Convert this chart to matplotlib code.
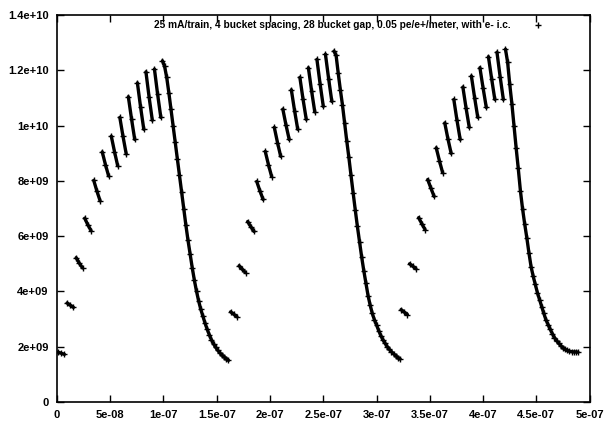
import numpy as np
import matplotlib
matplotlib.use('Agg')
import matplotlib.pyplot as plt

# electron cloud density (units of 1e9) for three bunch trains
# each bunch cluster is sampled at 0, 3 and 6 ns after the cluster start
cluster_step_ns = [0, 3, 6]

train1_start_ns = [1, 9.5, 18, 26, 34.5, 42.5, 51, 59, 67, 75.5, 83.5, 91.5]
train1_clusters = [
    [1.80, 1.76, 1.72], [3.58, 3.50, 3.42], [5.22, 5.02, 4.85],
    [6.65, 6.41, 6.20], [8.02, 7.63, 7.28], [9.05, 8.59, 8.18],
    [9.62, 9.06, 8.55], [10.30, 9.61, 8.98], [11.05, 10.24, 9.50],
    [11.55, 10.67, 9.87], [11.95, 11.03, 10.20], [12.05, 11.13, 10.30],
]
train1_decay_ns = list(range(99, 162, 2))
train1_decay = [12.35, 12.15, 11.75, 11.2, 10.6, 10.0, 9.4, 8.8, 8.2, 7.6, 7.0,
                6.4, 5.85, 5.35, 4.85, 4.4, 4.0, 3.65, 3.35, 3.1, 2.85, 2.63,
                2.43, 2.25, 2.1, 1.97, 1.86, 1.77, 1.69, 1.62, 1.56, 1.5]

train2_start_ns = [163, 171, 179, 187.5, 195.5, 204, 212, 220, 228, 236, 244, 252]
train2_clusters = [
    [3.26, 3.17, 3.08], [4.93, 4.80, 4.68], [6.53, 6.34, 6.17],
    [7.98, 7.64, 7.33], [9.07, 8.59, 8.16], [9.94, 9.39, 8.89],
    [10.60, 10.02, 9.50], [11.30, 10.55, 9.87], [11.75, 10.95, 10.23],
    [12.10, 11.26, 10.50], [12.40, 11.51, 10.70], [12.59, 11.70, 10.88],
]
train2_decay_ns = list(range(260, 323, 2))
train2_decay = [12.7, 12.55, 11.9, 11.3, 10.75, 10.1, 9.45, 8.85, 8.2, 7.57,
                6.95, 6.35, 5.8, 5.25, 4.75, 4.3, 3.85, 3.5, 3.2, 2.97, 2.78,
                2.58, 2.4, 2.25, 2.12, 2.0, 1.9, 1.82, 1.74, 1.67, 1.6, 1.55]

train3_start_ns = [323, 331, 339.5, 348, 356, 364, 372.5, 381, 389, 397, 405, 413]
train3_clusters = [
    [3.34, 3.25, 3.16], [5.00, 4.91, 4.82], [6.67, 6.45, 6.24],
    [8.05, 7.74, 7.44], [9.20, 8.73, 8.30], [10.10, 9.52, 9.00],
    [10.95, 10.19, 9.50], [11.40, 10.64, 9.94], [11.80, 11.02, 10.30],
    [12.10, 11.36, 10.66], [12.50, 11.70, 10.95], [12.66, 11.77, 10.95],
]
train3_decay_ns = list(range(421, 490, 2))
train3_decay = [12.77, 12.3, 11.5, 10.8, 10.0, 9.2, 8.45, 7.65, 7.0, 6.45,
                5.95, 5.4, 4.9, 4.55, 4.25, 3.95, 3.7, 3.45, 3.2, 2.97, 2.8,
                2.63, 2.47, 2.33, 2.22, 2.12, 2.03, 1.96, 1.9, 1.86, 1.83,
                1.82, 1.81, 1.81, 1.8]

key_text = '25 mA/train, 4 bucket spacing, 28 bucket gap, 0.05 pe/e+/meter, with e- i.c.'
x_ticks = [0, 5e-8, 1e-7, 1.5e-7, 2e-7, 2.5e-7, 3e-7, 3.5e-7, 4e-7, 4.5e-7, 5e-7]
x_labels = ['0', '5e-08', '1e-07', '1.5e-07', '2e-07', '2.5e-07', '3e-07',
            '3.5e-07', '4e-07', '4.5e-07', '5e-07']
y_ticks = [0, 2e9, 4e9, 6e9, 8e9, 1e10, 1.2e10, 1.4e10]
y_labels = ['0', '2e+09', '4e+09', '6e+09', '8e+09', '1e+10', '1.2e+10', '1.4e+10']

plt.rcParams['font.family'] = ['Liberation Sans', 'DejaVu Sans']

fig = plt.figure(figsize=(6.06, 4.23), dpi=100)
ax = fig.add_axes([0.094, 0.05, 0.879, 0.914])

trains = [
    (train1_start_ns, train1_clusters, train1_decay_ns, train1_decay),
    (train2_start_ns, train2_clusters, train2_decay_ns, train2_decay),
    (train3_start_ns, train3_clusters, train3_decay_ns, train3_decay),
]
first = True
for starts, clusters, dec_t, dec_v in trains:
    segs_t = []
    segs_v = []
    for s, vals in zip(starts, clusters):
        segs_t.append([(s + d) * 1e-9 for d in cluster_step_ns])
        segs_v.append([v * 1e9 for v in vals])
    segs_t.append([t * 1e-9 for t in dec_t])
    segs_v.append([v * 1e9 for v in dec_v])
    for tt, vv in zip(segs_t, segs_v):
        ax.plot(tt, vv, color='black', lw=2.4, solid_capstyle='round')
        ax.plot(tt, vv, '+', color='black', ms=5, mew=1.0,
                label=key_text if first else None)
        first = False

ax.set_xlim(0, 5e-7)
ax.set_ylim(0, 1.4e10)
ax.set_xticks(x_ticks)
ax.set_xticklabels(x_labels)
ax.set_yticks(y_ticks)
ax.set_yticklabels(y_labels)
ax.tick_params(direction='in', top=True, right=True, length=5, width=1,
               labelsize=8, pad=6)
for lab in ax.get_xticklabels() + ax.get_yticklabels():
    lab.set_fontweight('bold')
for sp in ax.spines.values():
    sp.set_linewidth(1.2)

leg = ax.legend(loc='upper right', bbox_to_anchor=(0.925, 1.005), frameon=False,
                markerfirst=False, fontsize=7.3, handlelength=1.0,
                borderaxespad=0.3, handletextpad=2.2)
for txt in leg.get_texts():
    txt.set_fontweight('bold')

fig.savefig('out.png', dpi=100)
